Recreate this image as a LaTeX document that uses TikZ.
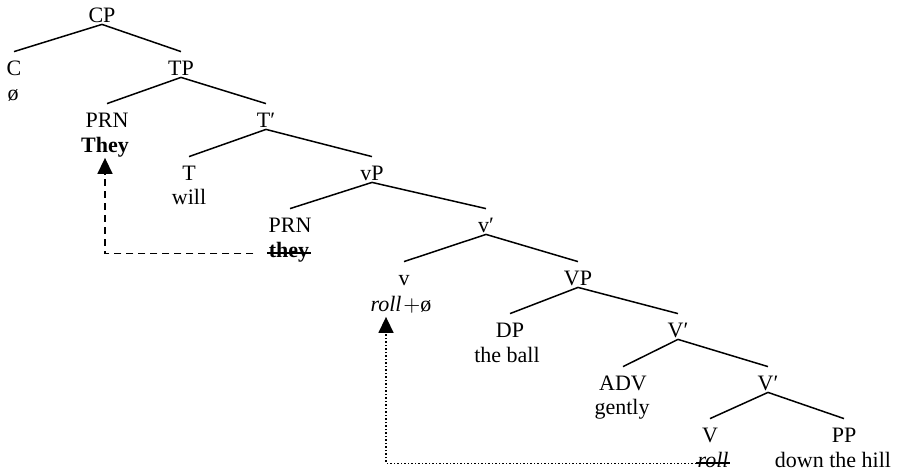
\documentclass[tikz,border=0pt]{standalone}
\usepackage{fontspec}
\setmainfont{Liberation Serif}
\usetikzlibrary{arrows.meta}

\tikzset{
  cat/.style={anchor=base, inner sep=1pt, text height=10.5pt, text depth=0pt},
  word/.style={anchor=base, inner xsep=0.5pt, inner ysep=0.75pt, text height=5.75pt, text depth=2pt},
  branch/.style={line width=0.75pt},
  strike/.style={line width=0.9pt},
  movearrow/.style={line width=0.75pt, -{Triangle[width=7.5pt,length=8pt]}},
}

\begin{document}
\begin{tikzpicture}[x=0.5pt, y=-0.5pt, font=\fontsize{11pt}{13pt}\selectfont]
    \useasboundingbox (0,0) rectangle (904,471);
    % categories, one row per level
    \node[cat] (cp) at (102,22) {CP};
    \node[cat] (c) at (14,75) {C};
    \node[cat] (tp) at (181,75) {TP};
    \node[cat] (prn1) at (107,127) {PRN};
    \node[cat] (tbar) at (266,127) {T′};
    \node[cat] (t) at (189,180) {T};
    \node[cat] (vp) at (372,180) {vP};
    \node[cat] (prn2) at (290,232) {PRN};
    \node[cat] (vbar) at (486,232) {v′};
    \node[cat] (v) at (404,285) {v};
    \node[cat] (bigvp) at (578,285) {VP};
    \node[cat] (dp) at (510,337) {DP};
    \node[cat] (bigvbar1) at (678,337) {V′};
    \node[cat] (adv) at (623,390) {ADV};
    \node[cat] (bigvbar2) at (768,390) {V′};
    \node[cat] (bigv) at (710,442) {V};
    \node[cat] (pp) at (844,442) {PP};
    % words under the categories
    \node[word] (null1) at (13,100) {ø};
    \node[word] (they1) at (105,152) {\textbf{They}};
    \node[word] (will) at (189,204) {will};
    \node[word] (they2) at (289,257) {\textbf{they}};
    \node[word] (rollv) at (386,311) {\textit{roll}};
    \node[word, anchor=base west, inner xsep=0pt] (null2) at (rollv.base east) {$+$ø};
    \node[word] (theball) at (507,362) {the ball};
    \node[word] (gently) at (622,414) {gently};
    \node[word] (rollV) at (713,467) {\textit{roll}};
    \node[word] (downhill) at (833,467) {down the hill};
    % branches
    \foreach \mother/\daughter in {cp/c, cp/tp, tp/prn1, tp/tbar, tbar/t, tbar/vp,
        vp/prn2, vp/vbar, vbar/v, vbar/bigvp, bigvp/dp, bigvp/bigvbar1,
        bigvbar1/adv, bigvbar1/bigvbar2, bigvbar2/bigv, bigvbar2/pp}
        \draw[branch] (\mother.south) -- (\daughter.north);
    % struck-out copies and movement
    \draw[strike] (they2.west) -- (they2.east);
    \draw[strike] (rollV.west) -- (rollV.east);
    \draw[movearrow, dash pattern=on 3.5pt off 2.5pt, shorten <=7pt] (they2.west) -| (they1.south);
    \draw[movearrow, densely dotted] (rollV.west) -| (rollv.south);
\end{tikzpicture}
\end{document}
